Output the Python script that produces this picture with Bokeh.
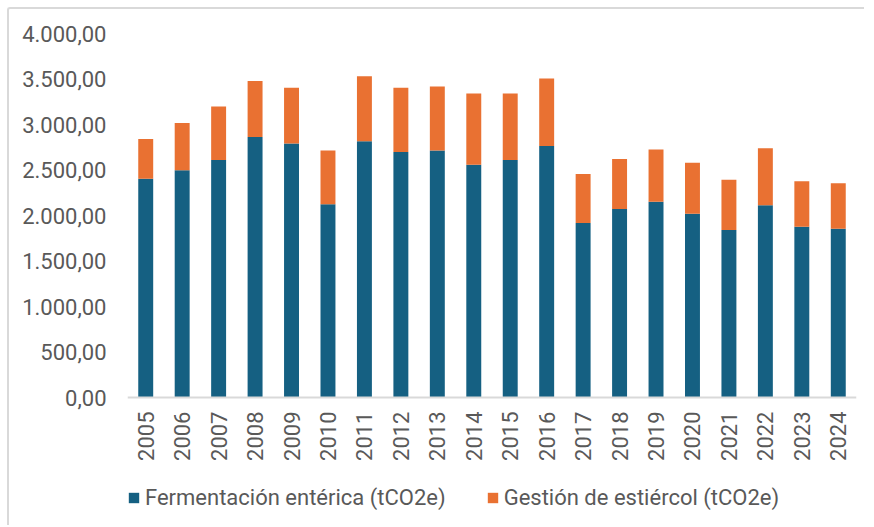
from bokeh.plotting import figure
from bokeh.models import FactorRange, Range1d, CustomJSTickFormatter, Legend, LegendItem
from bokeh.embed import file_html
from bokeh.resources import INLINE

years = [str(y) for y in range(2005, 2025)]
fermentacion = [2404, 2497, 2610, 2864, 2790, 2123, 2816, 2699, 2713, 2559,
                2610, 2765, 1918, 2072, 2152, 2020, 1841, 2112, 1877, 1855]
totales = [2841, 3017, 3197, 3479, 3403, 2713, 3531, 3403, 3417, 3340,
           3340, 3505, 2457, 2622, 2724, 2581, 2394, 2739, 2376, 2354]
gestion = [t - f for t, f in zip(totales, fermentacion)]
series = ["Fermentación entérica (tCO2e)", "Gestión de estiércol (tCO2e)"]
colors = ["#156082", "#E97132"]
y_ticks = [0, 500, 1000, 1500, 2000, 2500, 3000, 3500, 4000]

data = {"year": years, "ferm": fermentacion, "gest": gestion}

TEXT = "#595959"
FONT = "Roboto"
FS = "22px"

# frame: top at 4000 (y=33px), axis at 0 (y=397px), frame bottom at 527px
Y_MAX = 4000
y_min = -Y_MAX * (527 - 397) / (397 - 33)

p = figure(x_range=FactorRange(*years), y_range=Range1d(y_min, Y_MAX),
           width=857, height=518, output_backend="svg", toolbar_location=None,
           min_border_left=118, min_border_right=10, min_border_top=24,
           min_border_bottom=0)
p.styles = {"position": "relative", "left": "7px", "top": "7px",
            "border-top": "2px solid #d9d9d9", "border-left": "2px solid #d9d9d9",
            "border-top-left-radius": "3px"}

rs = p.vbar_stack(["ferm", "gest"], x="year", width=0.41, color=colors,
                  source=data, line_color=None)

p.xgrid.visible = False
p.ygrid.visible = False
p.outline_line_color = None

p.yaxis.ticker = y_ticks
p.yaxis.formatter = CustomJSTickFormatter(code="""
const s = tick.toFixed(2);
const parts = s.split('.');
return parts[0].replace(/\\B(?=(\\d{3})+(?!\\d))/g, '.') + ',' + parts[1];
""")
p.yaxis.axis_line_color = None
p.yaxis.major_tick_line_color = None
p.yaxis.minor_tick_line_color = None
p.yaxis.major_tick_out = 0
p.yaxis.major_tick_in = 0
p.yaxis.major_label_standoff = 21
p.yaxis.major_label_text_font = FONT
p.yaxis.major_label_text_font_size = FS
p.yaxis.major_label_text_color = TEXT

p.xaxis.fixed_location = 0
p.xaxis.axis_line_color = "#d9d9d9"
p.xaxis.axis_line_width = 2
p.xaxis.major_tick_line_color = None
p.xaxis.minor_tick_line_color = None
p.xaxis.major_tick_out = 0
p.xaxis.major_tick_in = 0
p.xaxis.major_label_orientation = 1.5707963
p.xaxis.major_label_standoff = 14
p.xaxis.major_label_text_font = FONT
p.xaxis.major_label_text_font_size = FS
p.xaxis.major_label_text_color = TEXT

legend = Legend(items=[LegendItem(label=series[0], renderers=[rs[0]]),
                       LegendItem(label=series[1], renderers=[rs[1]])],
                location=(0, 17), orientation="horizontal",
                padding=0, margin=0, spacing=40, label_standoff=5,
                glyph_width=13, glyph_height=13,
                border_line_color=None, background_fill_alpha=0,
                label_text_font=FONT, label_text_font_size=FS,
                label_text_color=TEXT)
p.add_layout(legend, "center")

open("out.html", "w").write(file_html(p, INLINE))
